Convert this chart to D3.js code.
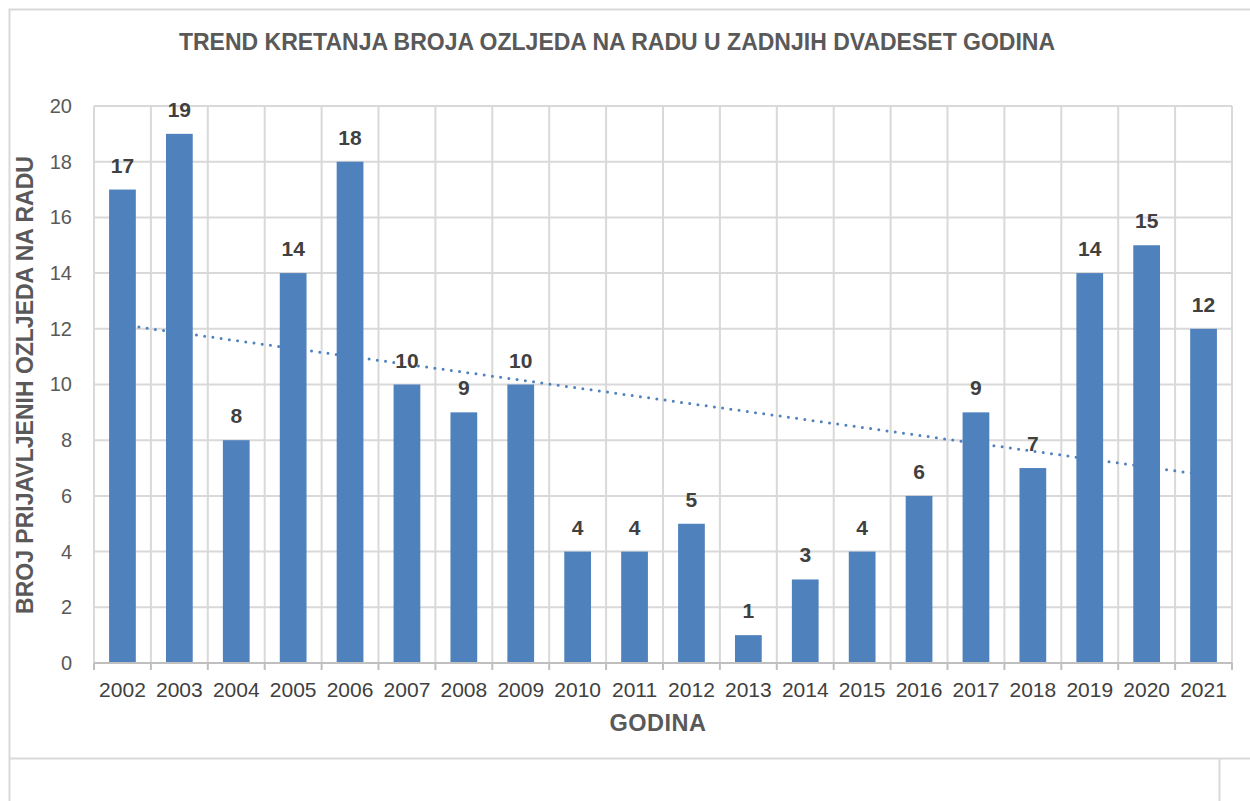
<!DOCTYPE html>
<html>
<head>
<meta charset="utf-8">
<script src="https://cdn.jsdelivr.net/npm/d3@7"></script>
<style>
  html, body { margin: 0; padding: 0; background: #fff; }
  svg { display: block; font-family: "Liberation Sans", Arial, sans-serif; }
</style>
</head>
<body>
<svg id="chart" width="1250" height="801"></svg>
<script>
// Injuries at work per year
const years = ["2002","2003","2004","2005","2006","2007","2008","2009","2010","2011",
               "2012","2013","2014","2015","2016","2017","2018","2019","2020","2021"];
const injuries = [17, 19, 8, 14, 18, 10, 9, 10, 4, 4, 5, 1, 3, 4, 6, 9, 7, 14, 15, 12];
const yTicks = [0, 2, 4, 6, 8, 10, 12, 14, 16, 18, 20];

const chartTitle = "TREND KRETANJA BROJA OZLJEDA NA RADU U ZADNJIH DVADESET GODINA";
const xTitle = "GODINA";
const yTitle = "BROJ PRIJAVLJENIH OZLJEDA NA RADU";

const svg = d3.select("#chart");
const plot = { left: 94, right: 1232, top: 106, bottom: 663 };

const x = d3.scaleBand().domain(years).range([plot.left, plot.right]).paddingInner(0).paddingOuter(0);
const y = d3.scaleLinear().domain([0, 20]).range([plot.bottom, plot.top]);

const gridColor = "#d9d9d9";
const barColor = "#4f81bd";

// Outer frame and the cell below it
svg.append("path")
  .attr("d", `M9.5,801 V9.5 H1250 M9.5,758.5 H1250 M1219.5,758.5 V801`)
  .attr("fill", "none").attr("stroke", gridColor).attr("stroke-width", 2);

// Horizontal gridlines
svg.append("g")
  .selectAll("line").data(yTicks.filter(d => d > 0)).join("line")
  .attr("x1", plot.left).attr("x2", plot.right)
  .attr("y1", d => y(d)).attr("y2", d => y(d))
  .attr("stroke", gridColor).attr("stroke-width", 2);

// Vertical gridlines at category boundaries
const bounds = years.map(d => x(d)).concat([x(years[years.length - 1]) + x.bandwidth()]);
svg.append("g")
  .selectAll("line").data(bounds).join("line")
  .attr("x1", d => d).attr("x2", d => d)
  .attr("y1", plot.top).attr("y2", plot.bottom)
  .attr("stroke", gridColor).attr("stroke-width", 2);

// Linear trend (least squares over category index)
const n = injuries.length;
const xs = d3.range(1, n + 1);
const mx = d3.mean(xs), my = d3.mean(injuries);
const slope = d3.sum(xs, (xi, i) => (xi - mx) * (injuries[i] - my)) / d3.sum(xs, xi => (xi - mx) ** 2);
const intercept = my - slope * mx;
const trendPts = [
  [x(years[0]) + x.bandwidth() / 2, y(intercept + slope * 1)],
  [x(years[n - 1]) + x.bandwidth() / 2, y(intercept + slope * n)]
];
svg.append("path")
  .attr("d", d3.line()(trendPts))
  .attr("fill", "none").attr("stroke", barColor)
  .attr("stroke-width", 3).attr("stroke-linecap", "round")
  .attr("stroke-dasharray", "0 8.3");

// Bars
const barW = x.bandwidth() * 0.47;
svg.append("g")
  .selectAll("rect").data(years).join("rect")
  .attr("x", (d) => x(d) + (x.bandwidth() - barW) / 2)
  .attr("width", barW)
  .attr("y", (d, i) => y(injuries[i]))
  .attr("height", (d, i) => y(0) - y(injuries[i]))
  .attr("fill", barColor);

// Value labels
svg.append("g")
  .selectAll("text").data(years).join("text")
  .attr("x", d => x(d) + x.bandwidth() / 2)
  .attr("y", (d, i) => y(injuries[i]) - 17)
  .attr("text-anchor", "middle")
  .attr("font-size", 21).attr("font-weight", "bold")
  .attr("fill", "#404040")
  .text((d, i) => injuries[i]);

// X axis: baseline, boundary ticks, year labels
const xAxis = d3.axisBottom(x).tickSize(0).tickPadding(0);
const gx = svg.append("g").attr("transform", `translate(0,${plot.bottom})`).call(xAxis);
gx.select(".domain").remove();
gx.selectAll("text")
  .attr("y", 34).attr("dy", null)
  .attr("font-size", 21).attr("font-family", "'Liberation Sans', Arial, sans-serif")
  .attr("fill", "#404040");
svg.append("line")
  .attr("x1", plot.left).attr("x2", plot.right)
  .attr("y1", plot.bottom).attr("y2", plot.bottom)
  .attr("stroke", "#bfbfbf").attr("stroke-width", 2);
svg.append("g")
  .selectAll("line").data(bounds).join("line")
  .attr("x1", d => d).attr("x2", d => d)
  .attr("y1", plot.bottom).attr("y2", plot.bottom + 7)
  .attr("stroke", "#bfbfbf").attr("stroke-width", 2);

// Y axis labels
const yAxis = d3.axisLeft(y).tickValues(yTicks).tickSize(0).tickPadding(22);
const gy = svg.append("g").attr("transform", `translate(${plot.left},0)`).call(yAxis);
gy.select(".domain").remove();
gy.selectAll("text")
  .attr("font-size", 20).attr("font-family", "'Liberation Sans', Arial, sans-serif")
  .attr("fill", "#595959");

// Titles
svg.append("text")
  .attr("x", 617).attr("y", 50)
  .attr("text-anchor", "middle")
  .attr("font-size", 23).attr("font-weight", "bold")
  .attr("fill", "#595959")
  .text(chartTitle);

svg.append("text")
  .attr("x", 658).attr("y", 731)
  .attr("text-anchor", "middle")
  .attr("font-size", 23.5).attr("font-weight", "bold")
  .attr("letter-spacing", 0.5)
  .attr("fill", "#595959")
  .text(xTitle);

svg.append("text")
  .attr("transform", `translate(33,385) rotate(-90)`)
  .attr("text-anchor", "middle")
  .attr("font-size", 23).attr("font-weight", "bold")
  .attr("fill", "#595959")
  .text(yTitle);
</script>
</body>
</html>
